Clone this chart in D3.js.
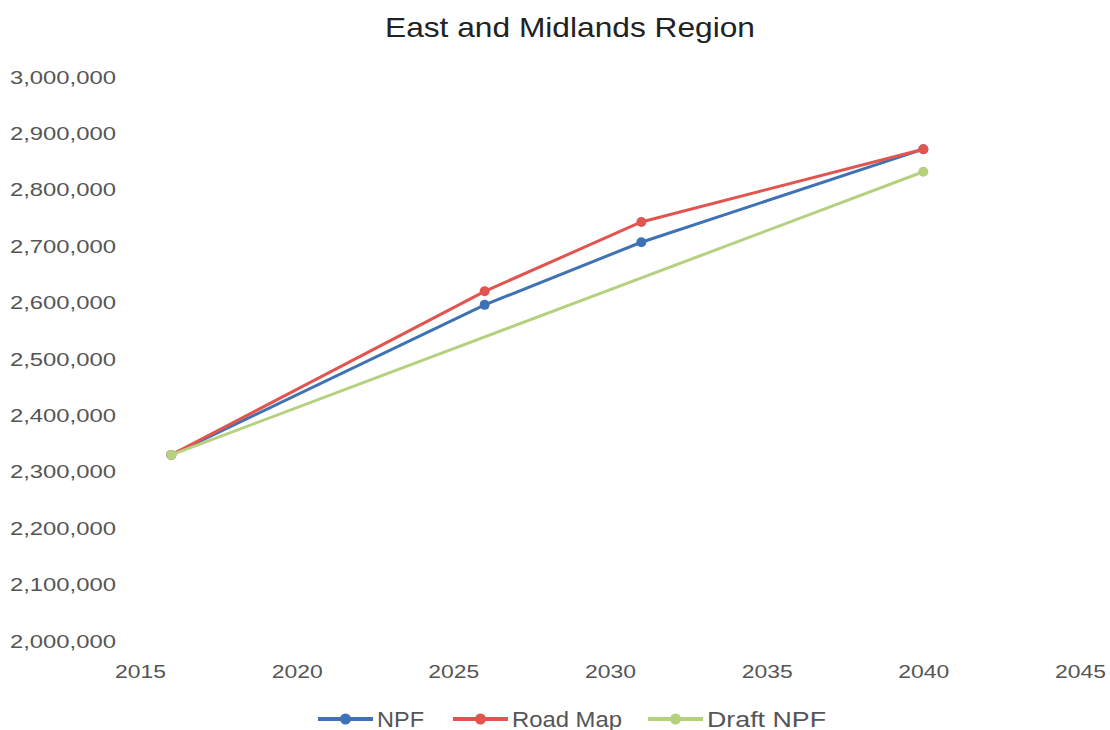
<!DOCTYPE html>
<html>
<head>
<meta charset="utf-8">
<script src="https://cdn.jsdelivr.net/npm/d3@7"></script>
<style>
  body { margin: 0; background: #fff; }
  text { font-family: "Liberation Sans", Arial, sans-serif; }
</style>
</head>
<body>
<script>
// data
const years = [2016, 2026, 2031, 2040];
const npf = [2330000, 2596000, 2707000, 2872000];
const roadMap = [2330000, 2620000, 2743000, 2872000];
const draftYears = [2016, 2040];
const draftNpf = [2330000, 2832000];
const yTicks = [2000000, 2100000, 2200000, 2300000, 2400000, 2500000, 2600000, 2700000, 2800000, 2900000, 3000000];
const xTicks = [2015, 2020, 2025, 2030, 2035, 2040, 2045];

const width = 1110, height = 730;
const margin = {top: 77, right: 30, bottom: 89, left: 140};
const innerWidth = width - margin.left - margin.right;
const innerHeight = height - margin.top - margin.bottom;

const series = [
  {name: 'NPF', color: '#3f72b5', xs: years, ys: npf},
  {name: 'Road Map', color: '#e2554f', xs: years, ys: roadMap},
  {name: 'Draft NPF', color: '#b5d17f', xs: draftYears, ys: draftNpf}
];

const svg = d3.select('body').append('svg').attr('width', width).attr('height', height);
const grp = svg.append('g').attr('transform', `translate(${margin.left}, ${margin.top})`);

const xScale = d3.scaleLinear().domain([2015, 2045]).range([0, innerWidth]);
const yScale = d3.scaleLinear().domain([2000000, 3000000]).range([innerHeight, 0]);

//title (the reference is a bit stretched sideways, so textLength is used)
svg.append('text').attr('x', 570).attr('y', 37).attr('text-anchor', 'middle')
  .attr('font-size', 28).attr('fill', '#222')
  .attr('textLength', 370).attr('lengthAdjust', 'spacingAndGlyphs')
  .text('East and Midlands Region');

//axes without lines
const yAxis = grp.append('g')
  .call(d3.axisLeft(yScale).tickValues(yTicks).tickFormat(d3.format(',')).tickSize(0).tickPadding(24));
const xAxis = grp.append('g').attr('transform', `translate(0, ${innerHeight})`)
  .call(d3.axisBottom(xScale).tickValues(xTicks).tickFormat(d3.format('d')).tickSize(0).tickPadding(24));
[xAxis, yAxis].forEach(a => {
  a.select('.domain').remove();
  a.selectAll('text').attr('font-size', 19).attr('fill', '#555')
    .attr('lengthAdjust', 'spacingAndGlyphs')
    .style('font-family', '"Liberation Sans", Arial, sans-serif');
});
yAxis.selectAll('text').attr('textLength', 106);
xAxis.selectAll('text').attr('textLength', 51);

const line = d3.line().x(d => xScale(d[0])).y(d => yScale(d[1]));

series.forEach(s => {
  const pts = s.xs.map((x, i) => [x, s.ys[i]]);
  grp.append('path').datum(pts).attr('d', line)
    .attr('fill', 'none').attr('stroke', s.color).attr('stroke-width', 3);
  grp.selectAll(null).data(pts).join('circle')
    .attr('cx', d => xScale(d[0])).attr('cy', d => yScale(d[1]))
    .attr('r', 5).attr('fill', s.color);
});

//legend
const legendPos = [{x: 318, w: 55, t: 47}, {x: 453, w: 55, t: 110}, {x: 648, w: 55, t: 119}];
const legend = svg.append('g').attr('transform', 'translate(0, 719)');
series.forEach((s, i) => {
  const p = legendPos[i];
  legend.append('line').attr('x1', p.x).attr('x2', p.x + p.w)
    .attr('stroke', s.color).attr('stroke-width', 4);
  legend.append('circle').attr('cx', p.x + p.w / 2).attr('r', 5.5).attr('fill', s.color);
  legend.append('text').attr('x', p.x + p.w + 4).attr('y', 8)
    .attr('font-size', 22).attr('fill', '#555')
    .attr('textLength', p.t).attr('lengthAdjust', 'spacingAndGlyphs')
    .text(s.name);
});
</script>
</body>
</html>
